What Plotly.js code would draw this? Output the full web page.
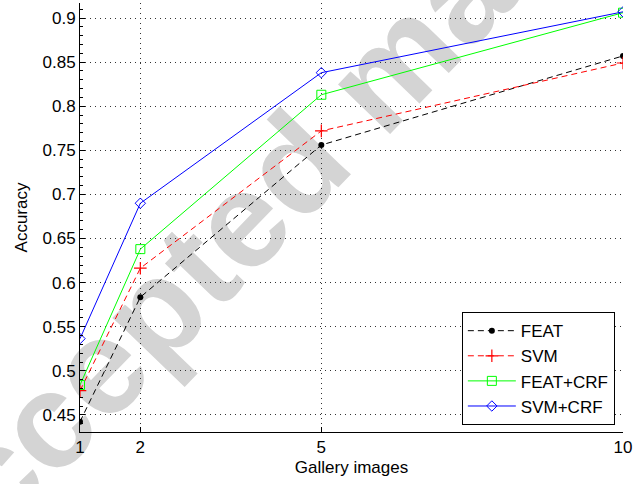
<!DOCTYPE html>
<html>
<head>
<meta charset="utf-8">
<script src="https://cdn.plot.ly/plotly-3.0.1.min.js"></script>
<style>html,body{margin:0;padding:0;background:#fff;}#chart{width:635px;height:484px;}</style>
</head>
<body>
<div id="chart"></div>
<script>
const galleryImages = [1, 2, 5, 10];
const featAcc = [0.4424, 0.5835, 0.756, 0.857];
const svmAcc = [0.4775, 0.6164, 0.772, 0.849];
const featCrfAcc = [0.484, 0.638, 0.813, 0.906];
const svmCrfAcc = [0.5365, 0.690, 0.838, 0.907];
const yTicks = [0.45, 0.5, 0.55, 0.6, 0.65, 0.7, 0.75, 0.8, 0.85, 0.9];
const yTickLabels = ['0.45', '0.5', '0.55', '0.6', '0.65', '0.7', '0.75', '0.8', '0.85', '0.9'];
const watermarkText = 'Accepted manuscript';

const traces = [
  {x: galleryImages, y: featAcc, name: 'FEAT', mode: 'lines+markers',
   line: {color: '#000', width: 1, dash: '6px,4px'},
   marker: {symbol: 'circle', size: 6, color: '#000'}},
  {x: galleryImages, y: svmAcc, name: 'SVM', mode: 'lines+markers',
   line: {color: '#ff0000', width: 1, dash: '6px,4px'},
   marker: {symbol: 'cross-thin-open', size: 9, color: '#ff0000', line: {color: '#ff0000', width: 1.2}}},
  {x: galleryImages, y: featCrfAcc, name: 'FEAT+CRF', mode: 'lines+markers',
   line: {color: '#00ff00', width: 1},
   marker: {symbol: 'square-open', size: 9, color: '#00ff00', line: {color: '#00ff00', width: 1}}},
  {x: galleryImages, y: svmCrfAcc, name: 'SVM+CRF', mode: 'lines+markers',
   line: {color: '#0000ff', width: 1},
   marker: {symbol: 'diamond-open', size: 8, color: '#0000ff', line: {color: '#0000ff', width: 1}}}
];

const layout = {
  width: 635, height: 484,
  margin: {l: 80, r: 12, t: 3, b: 52},
  paper_bgcolor: '#fff', plot_bgcolor: '#fff',
  font: {family: 'Liberation Sans', size: 17, color: '#000'},
  showlegend: true,
  legend: {x: 0.985, xanchor: 'right', y: 0.016, yanchor: 'bottom',
    bordercolor: '#000', borderwidth: 1, bgcolor: '#fff',
    font: {size: 17}, tracegroupgap: 0, itemwidth: 48},
  annotations: [{
    text: '<b>' + watermarkText + '</b>', xref: 'paper', yref: 'paper',
    x: 0.55, y: 0.825, xanchor: 'center', yanchor: 'middle',
    showarrow: false, textangle: -46,
    font: {family: 'Liberation Sans', size: 136, color: '#d4d4d4'}
  }],
  xaxis: {
    range: [1, 10], tickvals: galleryImages, ticktext: galleryImages.map(String),
    showline: true, linecolor: '#000', linewidth: 1, mirror: false,
    ticks: 'inside', ticklen: 5, tickcolor: '#000',
    showgrid: true, gridcolor: '#333', griddash: '1px,4px', gridwidth: 1,
    zeroline: false,
    title: {text: 'Gallery images', font: {size: 17}, standoff: 4},
    tickfont: {size: 17}
  },
  yaxis: {
    range: [0.4307, 0.917], tickvals: yTicks, ticktext: yTickLabels,
    showline: true, linecolor: '#000', linewidth: 1, mirror: false,
    ticks: 'inside', ticklen: 5, tickcolor: '#000',
    minor: {ticks: 'inside', ticklen: 3, dtick: 0.01, tickcolor: '#000', showgrid: false},
    showgrid: true, gridcolor: '#333', griddash: '1px,4px', gridwidth: 1,
    zeroline: false,
    title: {text: 'Accuracy', font: {size: 17}, standoff: 10},
    tickfont: {size: 17}
  }
};

Plotly.newPlot('chart', traces, layout, {displayModeBar: false, staticPlot: true}).then(function (gd) {
  // put the watermark text beneath the grid and the data, as in the reference
  const ann = gd.querySelector('.infolayer .annotation');
  const mainSvg = gd.querySelector('svg.main-svg');
  const bg = mainSvg && mainSvg.querySelector('.bglayer');
  if (ann && bg) bg.parentNode.insertBefore(ann, bg.nextSibling);
});
</script>
</body>
</html>
